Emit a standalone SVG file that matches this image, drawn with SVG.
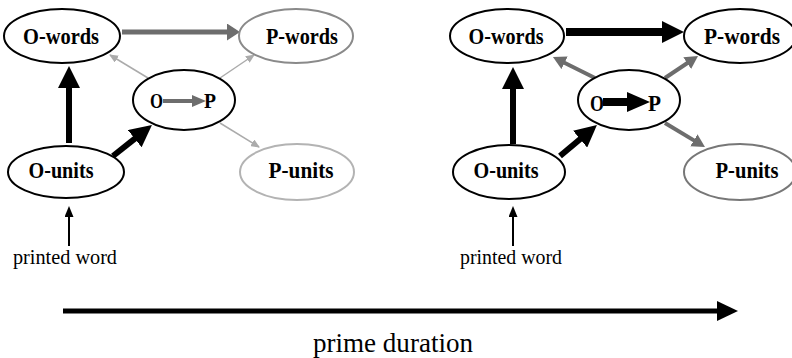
<svg xmlns="http://www.w3.org/2000/svg" width="792" height="358" viewBox="0 0 792 358">
<style>
.nd{fill:#fff;stroke:#000;stroke-width:2}
.lbl{font-family:"Liberation Serif","Times New Roman",serif;font-weight:bold;font-size:24px;fill:#000;text-anchor:middle}
.sm{font-family:"Liberation Serif","Times New Roman",serif;font-weight:bold;fill:#000}
.cap{font-family:"Liberation Serif","Times New Roman",serif;fill:#000}
.ck{stroke:#000;fill:none}
.cg{stroke:#6d6d6d;fill:none}
.cl{stroke:#ababab;fill:none;stroke-width:1.5}
</style>
<defs>
<marker id="hK" viewBox="0 0 22 22" markerWidth="22" markerHeight="22" refX="3" refY="11" orient="auto" markerUnits="userSpaceOnUse"><path d="M0,0 L22,11 L0,22 z" fill="#000"/></marker>
<marker id="hG" viewBox="0 0 13 17" markerWidth="13" markerHeight="17" refX="2" refY="8.5" orient="auto" markerUnits="userSpaceOnUse"><path d="M0,0 L13,8.5 L0,17 z" fill="#6d6d6d"/></marker>
<marker id="hM" viewBox="0 0 13 14" markerWidth="13" markerHeight="14" refX="3" refY="7" orient="auto" markerUnits="userSpaceOnUse"><path d="M0,0 L13,7 L0,14 z" fill="#6d6d6d"/></marker>
<marker id="hL" viewBox="0 0 9 8" markerWidth="9" markerHeight="8" refX="8" refY="4" orient="auto" markerUnits="userSpaceOnUse"><path d="M0,0 L9,4 L0,8 z" fill="#ababab"/></marker>
<marker id="hS" viewBox="0 0 11 9" markerWidth="11" markerHeight="9" refX="2" refY="4.5" orient="auto" markerUnits="userSpaceOnUse"><path d="M0,0 L11,4.5 L0,9 z" fill="#000"/></marker>
<marker id="hB" viewBox="0 0 21 20" markerWidth="21" markerHeight="20" refX="3" refY="10" orient="auto" markerUnits="userSpaceOnUse"><path d="M0,0 L21,10 L0,20 z" fill="#000"/></marker>
</defs>
<rect width="792" height="358" fill="#fff"/>

<g id="connectors">
<line class="cg" x1="122" y1="32" x2="229" y2="32" stroke-width="5" marker-end="url(#hG)"/>
<line class="ck" x1="69" y1="143" x2="69" y2="85" stroke-width="6" marker-end="url(#hK)"/>
<line class="ck" x1="113" y1="156" x2="137.1" y2="136.8" stroke-width="6" marker-end="url(#hK)"/>
<line class="cl" x1="148" y1="78" x2="110" y2="55" marker-end="url(#hL)"/>
<line class="cl" x1="220" y1="78" x2="254" y2="55" marker-end="url(#hL)"/>
<line class="cl" x1="220" y1="123" x2="259" y2="147" marker-end="url(#hL)"/>
<line class="ck" x1="69" y1="246" x2="69" y2="215" stroke-width="2" marker-end="url(#hS)"/>

<line class="ck" x1="566" y1="32" x2="665" y2="32" stroke-width="8" marker-end="url(#hK)"/>
<line class="ck" x1="513" y1="144" x2="513" y2="86" stroke-width="6" marker-end="url(#hK)"/>
<line class="ck" x1="560" y1="156" x2="582.4" y2="137.2" stroke-width="6" marker-end="url(#hK)"/>
<line class="cg" x1="595" y1="78" x2="561.9" y2="61.5" stroke-width="4" marker-end="url(#hM)"/>
<line class="cg" x1="665" y1="78" x2="689.7" y2="61.5" stroke-width="4" marker-end="url(#hM)"/>
<line class="cg" x1="665" y1="123" x2="696.4" y2="141.9" stroke-width="4" marker-end="url(#hM)"/>
<line class="ck" x1="513" y1="246" x2="513" y2="215" stroke-width="2" marker-end="url(#hS)"/>

<line class="ck" x1="63" y1="311" x2="720" y2="311" stroke-width="5" marker-end="url(#hB)"/>
</g>

<g id="l-owords"><ellipse class="nd" cx="62" cy="36" rx="58" ry="27"/><text class="lbl" x="61" y="44" textLength="76" lengthAdjust="spacingAndGlyphs">O-words</text></g>
<g id="l-pwords"><ellipse class="nd" cx="296" cy="36" rx="57" ry="27" style="stroke:#8a8a8a"/><text class="lbl" x="302" y="44" textLength="72" lengthAdjust="spacingAndGlyphs">P-words</text></g>
<g id="l-op"><ellipse class="nd" cx="184" cy="100" rx="51" ry="30"/>
<text class="sm" x="150" y="108" font-size="21" textLength="13" lengthAdjust="spacingAndGlyphs">O</text>
<rect x="163" y="99" width="30" height="4" fill="#6d6d6d"/><polygon points="192,95 206,101 192,107" fill="#6d6d6d"/>
<text class="sm" x="204" y="108" font-size="21" textLength="12" lengthAdjust="spacingAndGlyphs">P</text></g>
<g id="l-ounits"><ellipse class="nd" cx="66" cy="172" rx="58" ry="26"/><text class="lbl" x="61" y="178" textLength="65" lengthAdjust="spacingAndGlyphs">O-units</text></g>
<g id="l-punits"><ellipse class="nd" cx="297" cy="172" rx="57" ry="28" style="stroke:#b3b3b3"/><text class="lbl" x="301" y="178" textLength="65" lengthAdjust="spacingAndGlyphs">P-units</text></g>
<g id="l-printed"><text class="cap" x="13" y="264" font-size="21" textLength="104" lengthAdjust="spacingAndGlyphs">printed word</text></g>

<g id="r-owords"><ellipse class="nd" cx="507" cy="36" rx="57" ry="27"/><text class="lbl" x="506" y="44" textLength="75" lengthAdjust="spacingAndGlyphs">O-words</text></g>
<g id="r-pwords"><ellipse class="nd" cx="740" cy="36" rx="56" ry="27"/><text class="lbl" x="742" y="44" textLength="76" lengthAdjust="spacingAndGlyphs">P-words</text></g>
<g id="r-op"><ellipse class="nd" cx="629" cy="100" rx="51" ry="30"/>
<text class="sm" x="590" y="111" font-size="23" textLength="14" lengthAdjust="spacingAndGlyphs">O</text>
<rect x="603" y="98" width="26" height="8" fill="#000"/><polygon points="627,92 650,102 627,112" fill="#000"/>
<text class="sm" x="648" y="111" font-size="23" textLength="13" lengthAdjust="spacingAndGlyphs">P</text></g>
<g id="r-ounits"><ellipse class="nd" cx="509" cy="172" rx="56" ry="27"/><text class="lbl" x="506" y="178" textLength="65" lengthAdjust="spacingAndGlyphs">O-units</text></g>
<g id="r-punits"><ellipse class="nd" cx="740" cy="172" rx="56" ry="28" style="stroke:#777"/><text class="lbl" x="747" y="178" textLength="63" lengthAdjust="spacingAndGlyphs">P-units</text></g>
<g id="r-printed"><text class="cap" x="460" y="264" font-size="21" textLength="102" lengthAdjust="spacingAndGlyphs">printed word</text></g>

<g id="axis-label"><text class="cap" x="313" y="352" font-size="27" textLength="160" lengthAdjust="spacingAndGlyphs">prime duration</text></g>
</svg>
